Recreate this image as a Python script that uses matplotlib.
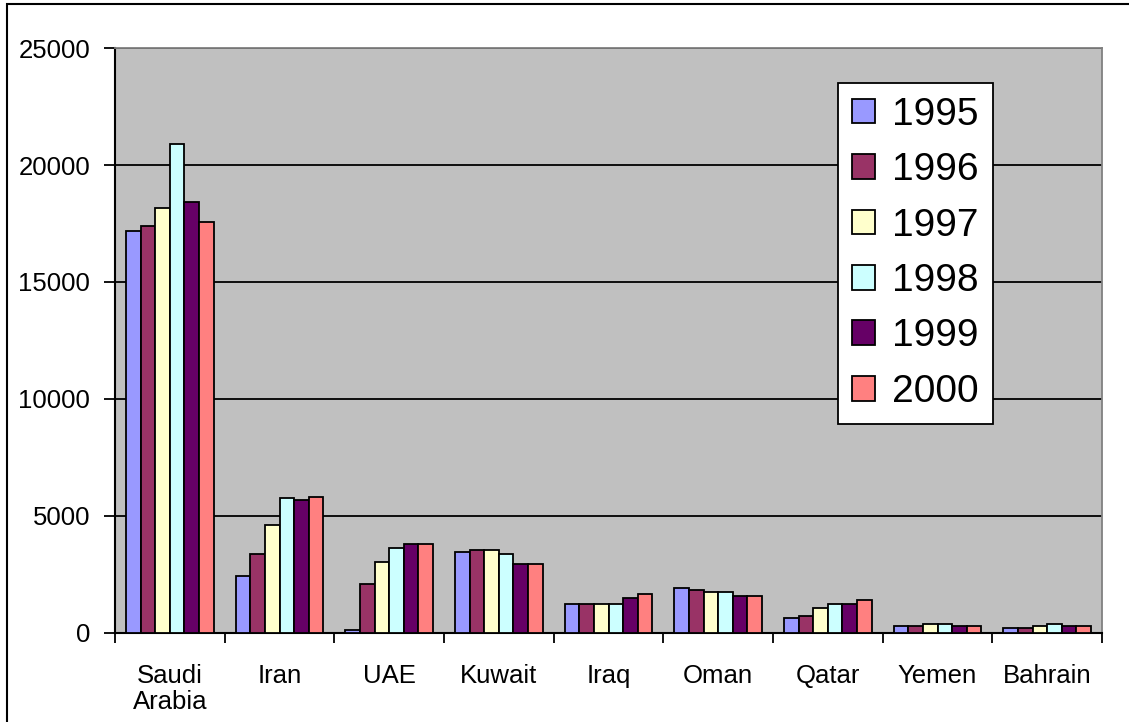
import numpy as np
import matplotlib as mpl
import matplotlib.pyplot as plt
from matplotlib.patches import Rectangle

mpl.rcParams['font.family'] = ['Liberation Sans', 'DejaVu Sans']

countries = ['Saudi\nArabia', 'Iran', 'UAE', 'Kuwait', 'Iraq', 'Oman', 'Qatar', 'Yemen', 'Bahrain']
years = ['1995', '1996', '1997', '1998', '1999', '2000']
colors = ['#9999FF', '#993366', '#FFFFCC', '#CCFFFF', '#660066', '#FF8080']

v1995 = [17200, 2420, 120, 3450, 1230, 1910, 630, 290, 200]
v1996 = [17400, 3360, 2080, 3540, 1230, 1820, 710, 290, 200]
v1997 = [18150, 4630, 3020, 3540, 1230, 1740, 1060, 370, 290]
v1998 = [20900, 5750, 3620, 3370, 1230, 1740, 1230, 370, 370]
v1999 = [18420, 5670, 3790, 2940, 1480, 1570, 1230, 290, 290]
v2000 = [17550, 5830, 3790, 2940, 1650, 1570, 1400, 290, 290]
series = [v1995, v1996, v1997, v1998, v1999, v2000]

fig = plt.figure(figsize=(11.29, 7.22), dpi=100)
ax = fig.add_axes([0.1019, 0.1233, 0.8742, 0.8102])
ax.set_facecolor('#C0C0C0')

x = np.arange(len(countries))
w = 0.8 / len(years)
for i, (vals, c, yr) in enumerate(zip(series, colors, years)):
    ax.bar(x - 0.4 + w * (i + 0.5), vals, w, color=c, edgecolor='black',
           linewidth=1.3, label=yr, zorder=3)

ax.set_xlim(-0.5, len(countries) - 0.5)
ax.set_ylim(0, 25000)
ax.set_yticks(range(0, 25001, 5000))
ax.yaxis.grid(True, color='black', linewidth=1.3, zorder=1)
ax.tick_params(axis='y', labelsize=18.5, length=8, width=1.3, pad=10, direction='out')

# category boundaries get the ticks, labels sit at the centres
ax.set_xticks(np.arange(-0.5, len(countries) - 0.4, 1))
ax.set_xticklabels([])
ax.set_xticks(x, minor=True)
ax.set_xticklabels(countries, minor=True, linespacing=1.15)
ax.tick_params(axis='x', which='major', length=7, width=1.3, direction='out')
ax.tick_params(axis='x', which='minor', length=0, labelsize=18.5, pad=22)

for s in ['left', 'bottom']:
    ax.spines[s].set_color('black')
    ax.spines[s].set_linewidth(1.5)
for s in ['top', 'right']:
    ax.spines[s].set_color('#808080')
    ax.spines[s].set_linewidth(1.3)

leg = ax.legend(loc='upper left', bbox_to_anchor=(0.7325, 0.94), borderaxespad=0,
                fontsize=28, frameon=True, fancybox=False, framealpha=1,
                handlelength=0.6, handleheight=0.6, handletextpad=0.45,
                labelspacing=0.5, borderpad=0.35)
leg.get_frame().set_edgecolor('black')
leg.get_frame().set_linewidth(1.3)

fig.patches.append(Rectangle((7 / 1129, -0.1), 2, 1.1 - 4 / 722, transform=fig.transFigure,
                             fill=False, edgecolor='black', linewidth=1.5))

fig.savefig('out.png', dpi=100, facecolor='white')
